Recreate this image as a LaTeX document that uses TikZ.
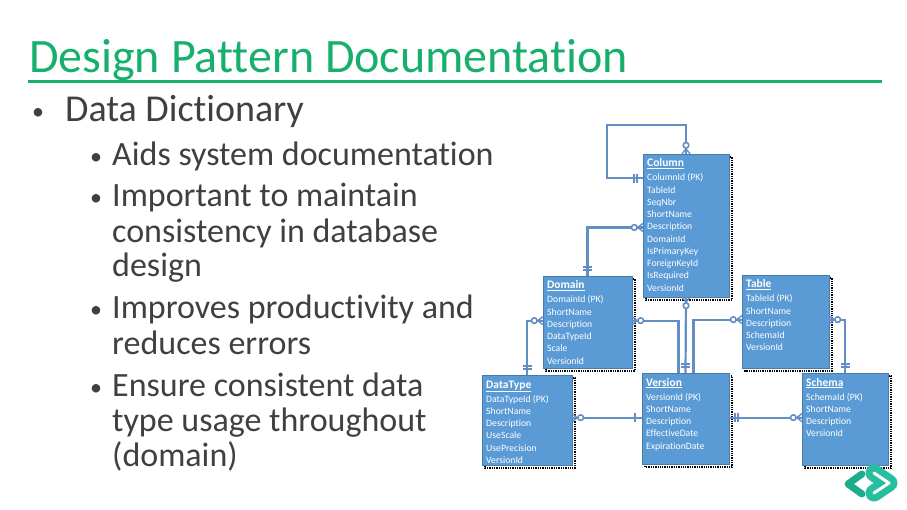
\documentclass[tikz,border=0pt]{standalone}
\usepackage{fontspec}
\setmainfont{Carlito}[Ligatures={NoCommon}]
\usetikzlibrary{calc}
\definecolor{titlegreen}{RGB}{22,176,108}
\definecolor{bodygray}{RGB}{64,64,64}
\definecolor{erfill}{RGB}{91,155,213}
\definecolor{erline}{RGB}{98,142,196}
\definecolor{tealA}{RGB}{28,172,140}
\definecolor{tealB}{RGB}{40,190,160}
\tikzset{
  erbox/.style={fill=erfill, draw=erfill!80!black, line width=0.4pt, inner sep=0pt},
  ertitle/.style={text=white, font=\fontsize{11.5}{12}\selectfont\bfseries, inner sep=0pt},
  errow/.style={text=white, font=\fontsize{9.7}{10}\selectfont, inner sep=0pt},
  conn/.style={draw=erline, line width=2.2pt},
  ermark/.style={draw=erline, line width=1.8pt},
  bodytxt/.style={text=bodygray, font=\fontsize{34}{36}\selectfont, inner sep=0pt, anchor=base west},
  toptxt/.style={text=bodygray, font=\fontsize{38}{40}\selectfont, inner sep=0pt, anchor=base west},
  bul/.style={text=bodygray, font=\fontsize{24}{26}\selectfont, inner sep=0pt, anchor=base},
}
\newcommand\erent[7]{%
  \draw[black, densely dotted, line width=1.3pt] (#2+3,#3+3) rectangle (#4+3,#5+3);
  \node[erbox, minimum width={(#4-#2)*1pt}, minimum height={(#5-#3)*1pt}] (#1) at ({(#2+#4)/2},{(#3+#5)/2}) {};
  \node[ertitle, anchor=base west] (#1-t) at (#2+4,#3+13) {\underline{#6}};
  \foreach \r [count=\i] in {#7} {\node[errow, anchor=base west] (#1-\i) at (#2+4,{#3+27+(\i-1)*12.25}) {\r};}
}
\newcommand\mkbar[2]{\draw[ermark, shift={(#1)}, rotate=#2] (7,-4.5) -- (7,4.5);}
\newcommand\mkbars[2]{\draw[ermark, shift={(#1)}, rotate=#2] (5.5,-4.5) -- (5.5,4.5) (9,-4.5) -- (9,4.5);}
\newcommand\mkzm[2]{\draw[ermark, line width=1.4pt, shift={(#1)}, rotate=#2] (0,-4) -- (5,0) -- (0,4) (0,0) -- (5,0);
  \draw[ermark, fill=white, line width=1.6pt, shift={(#1)}, rotate=#2] (8.5,0) circle (2.8);}
\begin{document}
\begin{tikzpicture}[x=1pt,y=-1pt]
\useasboundingbox (0,0) rectangle (907,510);
% title
\node[text=titlegreen, font=\fontsize{48}{50}\selectfont, inner sep=0pt, anchor=base west] (title) at (29,73) {Design Pattern Documentation};
\draw[titlegreen, line width=3pt] (28,82) -- (882,82);
% bullets
\node[toptxt] (b0) at (65,122) {Data Dictionary};
\node[bul] at (38,120) {•};
\node[bodytxt] (l1) at (112,166) {Aids system documentation};
\node[bodytxt] (l2) at (112,207) {Important to maintain};
\node[bodytxt] (l3) at (112,243) {consistency in database};
\node[bodytxt] (l4) at (112,277) {design};
\node[bodytxt] (l5) at (112,319) {Improves productivity and};
\node[bodytxt] (l6) at (112,354) {reduces errors};
\node[bodytxt] (l7) at (112,396) {Ensure consistent data};
\node[bodytxt] (l8) at (112,431) {type usage throughout};
\node[bodytxt] (l9) at (112,466) {(domain)};
\foreach \y in {165,206,318,395} {\node[bul] at (96,\y) {•};}
% entities
\erent{col}{643}{154}{729}{297}{Column}{ColumnId (PK),TableId,SeqNbr,ShortName,Description,DomainId,IsPrimaryKey,ForeignKeyId,IsRequired,VersionId}
\erent{dom}{543}{276}{632}{368}{Domain}{DomainId (PK),ShortName,Description,DataTypeId,Scale,VersionId}
\erent{dt}{482}{375}{572}{465}{DataType}{DataTypeId (PK),ShortName,Description,UseScale,UsePrecision,VersionId}
\erent{ver}{642}{373}{729}{464}{Version}{VersionId (PK),ShortName,Description,EffectiveDate,ExpirationDate}
\erent{tab}{742}{275}{829}{368}{Table}{TableId (PK),ShortName,Description,SchemaId,VersionId}
\erent{sch}{802}{373}{888}{465}{Schema}{SchemaId (PK),ShortName,Description,VersionId}
\coordinate (v1) at ($(ver.north)+(-7,0)$);
\coordinate (v3) at ($(ver.north)+(8,0)$);
% connectors
\draw[conn] (col.west |- col-1) -- ++(-36,0) |- ($(col.north)+(0,-29)$) -- (col.north);
\draw[conn] (col.west |- col-5) -| (dom.north);
\draw[conn] (dom.west |- dom-3.north) -| (dt.north);
\draw[conn] (dom.east |- dom-3.north) -| (v1);
\draw[conn] (col.south) -- (ver.north);
\draw[conn] (tab.west |- tab-3.north) -| (v3);
\draw[conn] (dt.east |- ver-3.north) -- (ver.west |- ver-3.north);
\draw[conn] (ver.east |- ver-3.north) -- (sch.west |- ver-3.north);
\draw[conn] (tab.east |- tab-3.north) -| (sch.north);
% markers
\mkbars{col.west |- col-1}{180}
\mkzm{col.north}{90}
\mkzm{col.west |- col-5}{180}
\mkbars{dom.north}{90}
\mkzm{dom.west |- dom-3.north}{180}
\mkbars{dt.north}{90}
\mkzm{dom.east |- dom-3.north}{0}
\mkzm{col.south}{270}
\mkbars{ver.north}{90}
\mkzm{tab.west |- tab-3.north}{180}
\mkzm{dt.east |- ver-3.north}{0}
\mkbar{ver.west |- ver-3.north}{180}
\mkbars{ver.east |- ver-3.north}{0}
\mkzm{sch.west |- ver-3.north}{180}
\mkzm{tab.east |- tab-3.north}{0}
\mkbars{sch.north}{90}
% navigation icon
\draw[tealA, line width=7pt, line cap=round, line join=round] (862,474) -- (848,484) -- (862,494);
\draw[tealB, line width=7pt, double=white, double distance=3pt, line cap=round, line join=round] (874,473) -- (889,483) -- (874,493);
\end{tikzpicture}
\end{document}
